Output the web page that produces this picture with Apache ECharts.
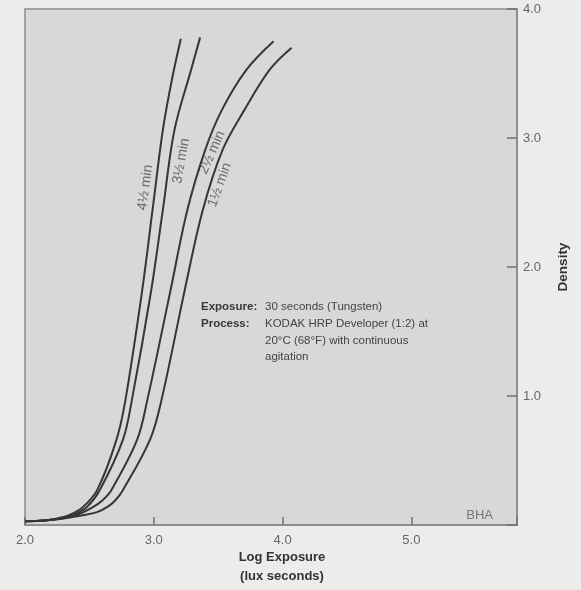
<!DOCTYPE html>
<html><head><meta charset="utf-8">
<script src="https://cdn.jsdelivr.net/npm/echarts@6/dist/echarts.min.js"></script>
<style>html,body{margin:0;padding:0;background:#ececea;} #c{width:581px;height:590px;}</style>
</head><body><div id="c"></div>
<script>
// ---- data ----
const xTickLabels = [2.0, 3.0, 4.0, 5.0];
const yTickLabels = [1.0, 2.0, 3.0, 4.0];
const curveNames = ['4½ min', '3½ min', '2½ min', '1½ min'];

const logE_45 = [2.00, 2.15, 2.25, 2.35, 2.45, 2.56, 2.71, 2.78, 2.91, 2.99, 3.07, 3.14, 3.21];
const dens_45 = [0.03, 0.035, 0.05, 0.08, 0.14, 0.27, 0.66, 0.97, 1.82, 2.44, 3.06, 3.45, 3.77];

const logE_35 = [2.00, 2.15, 2.27, 2.38, 2.48, 2.58, 2.76, 2.83, 2.98, 3.07, 3.16, 3.29, 3.36];
const dens_35 = [0.03, 0.035, 0.05, 0.08, 0.14, 0.27, 0.66, 0.97, 1.82, 2.44, 3.06, 3.53, 3.78];

const logE_25 = [2.00, 2.15, 2.28, 2.42, 2.53, 2.60, 2.67, 2.87, 2.95, 3.13, 3.26, 3.40, 3.53, 3.72, 3.93];
const dens_25 = [0.03, 0.035, 0.05, 0.085, 0.14, 0.19, 0.27, 0.66, 0.97, 1.82, 2.44, 2.91, 3.22, 3.53, 3.75];

const logE_15 = [2.00, 2.15, 2.30, 2.45, 2.56, 2.64, 2.70, 2.76, 2.97, 3.06, 3.24, 3.38, 3.535, 3.705, 3.90, 4.07];
const dens_15 = [0.03, 0.035, 0.05, 0.075, 0.10, 0.14, 0.19, 0.27, 0.66, 0.97, 1.82, 2.44, 2.91, 3.22, 3.53, 3.70];

const curves = [[logE_45, dens_45], [logE_35, dens_35], [logE_25, dens_25], [logE_15, dens_15]];

// curve label anchors (data coords) and angles
const labelAnchors = [[2.934, 2.616, 82], [3.213, 2.822, 80], [3.453, 2.888, 66], [3.512, 2.636, 70]];

const FONT = '"Liberation Sans", Arial, Helvetica, sans-serif';
const near = (arr, v) => arr.some(t => Math.abs(t - v) < 1e-6);

const chart = echarts.init(document.getElementById('c'), null, {renderer: 'canvas'});
const option = {
  backgroundColor: '#ececea',
  animation: false,
  textStyle: {fontFamily: FONT},
  grid: {left: 25, right: 64, top: 9, bottom: 65, show: true, outerBoundsMode: 'none', containLabel: false,
         backgroundColor: '#d8d8d6', borderColor: '#8a8a8a', borderWidth: 1.5},
  xAxis: {
    type: 'value', min: 2, max: 5.82, interval: 1,
    axisLine: {show: true, lineStyle: {color: '#8a8a8a', width: 1.5}},
    axisTick: {show: true, inside: true, length: 8, lineStyle: {color: '#707070', width: 1.5}},
    splitLine: {show: false},
    axisLabel: {color: '#666', fontSize: 13, margin: 9, fontFamily: FONT,
      formatter: v => near(xTickLabels, v) ? v.toFixed(1) : ''},
    name: 'Log Exposure\n(lux seconds)', nameLocation: 'middle', nameGap: 23, nameMoveOverlap: false,
    nameTextStyle: {fontWeight: 'bold', fontSize: 13, color: '#333', lineHeight: 19, fontFamily: FONT,
      padding: [0, 0, 0, 22]}
  },
  yAxis: {
    type: 'value', position: 'right', min: 0, max: 4, interval: 1,
    axisLine: {show: true, lineStyle: {color: '#8a8a8a', width: 1.5}},
    axisTick: {show: true, inside: true, length: 10, lineStyle: {color: '#707070', width: 1.5}},
    splitLine: {show: false},
    axisLabel: {color: '#666', fontSize: 13, margin: 6, fontFamily: FONT,
      formatter: v => near(yTickLabels, v) ? v.toFixed(1) : ''},
    name: 'Density', nameLocation: 'middle', nameRotate: 90, nameGap: 39, nameMoveOverlap: false,
    nameTextStyle: {fontWeight: 'bold', fontSize: 13.5, color: '#333', fontFamily: FONT}
  },
  series: curves.map((c, i) => ({
    name: curveNames[i], type: 'line', smooth: 0.35,
    showSymbol: false, symbol: 'none',
    lineStyle: {color: '#363636', width: 2},
    data: c[0].map((x, j) => [x, c[1][j]])
  }))
};
chart.setOption(option);

const g = [];
labelAnchors.forEach((a, i) => {
  const p = chart.convertToPixel({gridIndex: 0}, [a[0], a[1]]);
  g.push({type: 'text', x: p[0], y: p[1], rotation: a[2] * Math.PI / 180,
    style: {text: curveNames[i], font: '14px ' + FONT, fill: '#6a6a6a', align: 'center', verticalAlign: 'middle'}});
});
const noteFont = '11.5px ' + FONT, noteBold = 'bold 11.5px ' + FONT;
const col = 265;
g.push({type: 'text', x: 201, y: 307, style: {text: 'Exposure:', font: noteBold, fill: '#383838', verticalAlign: 'middle'}});
g.push({type: 'text', x: col, y: 307, style: {text: '30 seconds (Tungsten)', font: noteFont, fill: '#444', verticalAlign: 'middle'}});
g.push({type: 'text', x: 201, y: 324, style: {text: 'Process:', font: noteBold, fill: '#383838', verticalAlign: 'middle'}});
g.push({type: 'text', x: col, y: 324, style: {text: 'KODAK HRP Developer (1:2) at', font: noteFont, fill: '#444', verticalAlign: 'middle'}});
g.push({type: 'text', x: col, y: 341, style: {text: '20°C (68°F) with continuous', font: noteFont, fill: '#444', verticalAlign: 'middle'}});
g.push({type: 'text', x: col, y: 357, style: {text: 'agitation', font: noteFont, fill: '#444', verticalAlign: 'middle'}});
g.push({type: 'text', x: 493, y: 515, style: {text: 'BHA', font: '13px ' + FONT, fill: '#777', align: 'right', verticalAlign: 'middle'}});
chart.setOption({graphic: g});
</script>
</body></html>
